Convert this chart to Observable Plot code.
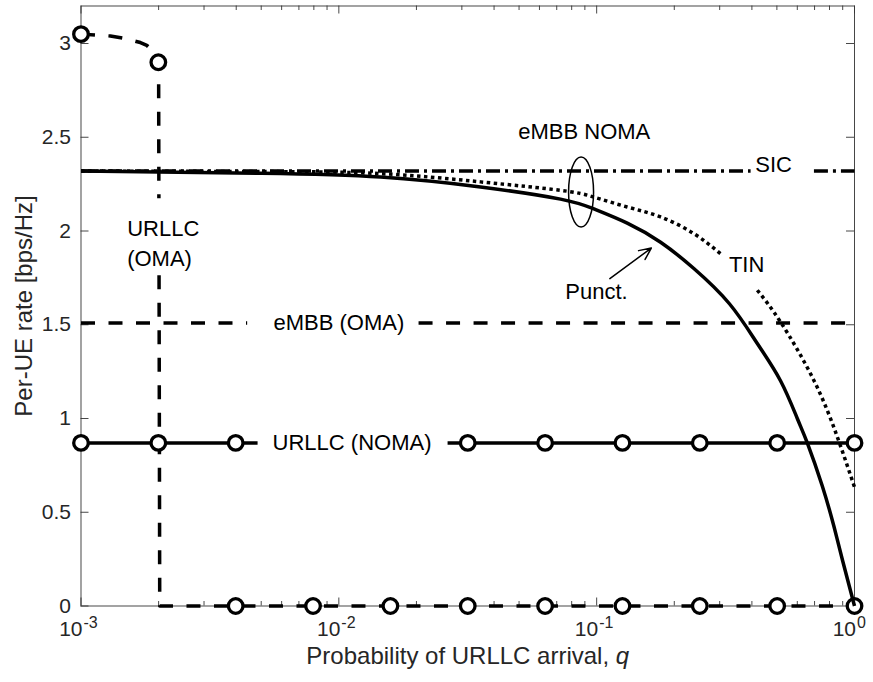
<!DOCTYPE html>
<html><head><meta charset="utf-8">
<script src="https://cdn.jsdelivr.net/npm/d3@7"></script>
<script src="https://cdn.jsdelivr.net/npm/@observablehq/plot@0.6"></script>
<style>body{margin:0;background:#fff} svg{display:block}</style>
</head><body><div id="chart"></div>
<script>
// ---- data ----
const qMarks = [0.001, 0.001995, 0.003981, 0.007943, 0.01585, 0.03162, 0.06310, 0.1259, 0.2512, 0.5012, 1];
const urllcNomaRate = [0.87, 0.87, 0.87, 0.87, 0.87, 0.87, 0.87, 0.87, 0.87, 0.87, 0.87];
const urllcOmaMarkRate = [3.05, 2.90, 0, 0, 0, 0, 0, 0, 0, 0, 0];

const urllcOmaQ    = [0.001, 0.0013, 0.0015, 0.0017, 0.0018, 0.0019, 0.002, 0.00202, 1];
const urllcOmaRate = [3.05, 3.04, 3.025, 3.005, 2.99, 2.96, 2.90, 0, 0];

const embbOmaQ = [0.001, 1];
const embbOmaRate = [1.51, 1.51];
const sicQ = [0.001, 1];
const sicRate = [2.32, 2.32];

const punctQ    = [0.001, 0.005, 0.01452, 0.03545, 0.0724, 0.0975, 0.1314, 0.177, 0.2382, 0.3273, 0.4198, 0.517, 0.6, 0.656, 0.75, 0.832, 0.9, 1];
const punctRate = [2.32, 2.308, 2.288, 2.235, 2.17, 2.118, 2.042, 1.940, 1.800, 1.612, 1.400, 1.200, 1.00, 0.870, 0.64, 0.425, 0.24, 0];

const tinQ    = [0.001, 0.005, 0.01452, 0.03545, 0.0724, 0.0975, 0.1314, 0.177, 0.2382, 0.3024, 0.4198, 0.517, 0.696, 0.858, 1];
const tinRate = [2.32, 2.317, 2.306, 2.262, 2.217, 2.181, 2.128, 2.075, 1.986, 1.879, 1.684, 1.514, 1.203, 0.901, 0.634];

// gaps where a line is hidden behind its label
const urllcNomaGapQ = [0.00484, 0.02641];
const embbOmaGapQ = [0.00441, 0.02038];
const sicGapQ = [0.3954, 0.6961];
const tinGapQ = [0.3024, 0.4198];
const urllcOmaGapRate = [1.764, 2.175];

// annotations
const labelTexts = ["eMBB NOMA", "SIC", "TIN", "Punct.", "eMBB (OMA)", "URLLC (NOMA)"];
const labelQ     = [0.0895, 0.4856, 0.3815, 0.0999, 0.01, 0.01125];
const labelRate  = [2.527, 2.351, 1.817, 1.673, 1.51, 0.87];
const omaLabel = "URLLC\n(OMA)", omaLabelQ = 0.00151, omaLabelRate = 1.943;
const ellipseQ = 0.087, ellipseRate = 2.208;
const arrowFrom = [0.1125, 1.746], arrowTo = [0.1629, 1.909];

const xMajor = [0.001, 0.01, 0.1, 1];
const xExp = ["-3", "-2", "-1", "0"];
const xMinor = [2,3,4,5,6,7,8,9].flatMap(m => [0.001, 0.01, 0.1].map(d => m * d));
const yTicks = [0, 0.5, 1, 1.5, 2, 2.5, 3];
const xLabel = "Probability of URLLC arrival, q";
const yLabel = "Per-UE rate [bps/Hz]";

// ---- helpers ----
const pts = (qs, rs) => qs.map((q, i) => ({q, r: rs[i]}));
function interp(p0, p1, t) {
  if (t === 0) return p0;
  if (t === 1) return p1;
  return {q: Math.exp(Math.log(p0.q) + t * (Math.log(p1.q) - Math.log(p0.q))), r: p0.r + t * (p1.r - p0.r)};
}
function cut(points, key, a, b) {
  const f = key === "q" ? Math.log : (v => v);
  const lo = f(Math.min(a, b)), hi = f(Math.max(a, b));
  const inGap = v => v > lo && v < hi;
  const parts = []; let cur = [];
  for (let i = 0; i < points.length; i++) {
    const p = points[i];
    if (i === 0) { if (!inGap(f(p[key]))) cur.push(p); continue; }
    const p0 = points[i - 1], v0 = f(p0[key]), v1 = f(p[key]);
    const ts = [];
    for (const e of [lo, hi]) if ((v0 - e) * (v1 - e) < 0) ts.push((e - v0) / (v1 - v0));
    ts.sort((x, y) => x - y);
    const bounds = [0, ...ts, 1];
    for (let j = 0; j < bounds.length - 1; j++) {
      const vm = v0 + (bounds[j] + bounds[j + 1]) / 2 * (v1 - v0);
      if (inGap(vm)) { if (cur.length > 1) parts.push(cur); cur = []; }
      else {
        if (!cur.length) cur.push(interp(p0, p, bounds[j]));
        cur.push(interp(p0, p, bounds[j + 1]));
      }
    }
  }
  if (cur.length > 1) parts.push(cur);
  return parts;
}
const tag = (parts, name) => parts.flatMap((part, i) => part.map(p => ({...p, z: name + i})));

const sicData = tag(cut(pts(sicQ, sicRate), "q", ...sicGapQ), "sic");
const embbData = tag(cut(pts(embbOmaQ, embbOmaRate), "q", ...embbOmaGapQ), "embb");
const omaData = tag(cut(pts(urllcOmaQ, urllcOmaRate), "r", ...urllcOmaGapRate), "oma");
const nomaData = tag(cut(pts(qMarks, urllcNomaRate), "q", ...urllcNomaGapQ), "noma");
const tinData = tag(cut(pts(tinQ, tinRate), "q", ...tinGapQ), "tin");
const punctData = pts(punctQ, punctRate);
const omaMarks = pts(qMarks, urllcOmaMarkRate);
const nomaMarks = pts(qMarks, urllcNomaRate).filter(p => p.q < urllcNomaGapQ[0] || p.q > urllcNomaGapQ[1]);

const ellipseSymbol = {
  draw(ctx, size) {
    const ry = Math.sqrt(size / Math.PI), rx = ry * 0.357, k = 0.5523;
    ctx.moveTo(rx, 0);
    ctx.bezierCurveTo(rx, k * ry, k * rx, ry, 0, ry);
    ctx.bezierCurveTo(-k * rx, ry, -rx, k * ry, -rx, 0);
    ctx.bezierCurveTo(-rx, -k * ry, -k * rx, -ry, 0, -ry);
    ctx.bezierCurveTo(k * rx, -ry, rx, -k * ry, rx, 0);
    ctx.closePath();
  }
};

// ---- layout ----
const W = 873, H = 682, mL = 80.5, mR = 19, mT = 5.5, mB = 76.5;
const plotW = W - mL - mR, plotH = H - mT - mB;
const axisColor = "#333";
const font = "'Liberation Sans', Arial, Helvetica, sans-serif";
const LW = 3.5;
const lineStyle = {stroke: "black", strokeWidth: LW, strokeLinecap: "butt", strokeLinejoin: "miter"};

const chart = Plot.plot({
  width: W, height: H,
  marginLeft: mL, marginRight: mR, marginTop: mT, marginBottom: mB,
  x: {type: "log", domain: [1e-3, 1], axis: null},
  y: {domain: [0, 3.2], axis: null},
  style: {fontFamily: font, background: "white"},
  marks: [
    // ticks (inside, all four sides)
    Plot.tickX(xMajor, {x: d => d, insetTop: plotH - 8, stroke: axisColor, strokeWidth: 0.9}),
    Plot.tickX(xMajor, {x: d => d, insetBottom: plotH - 8, stroke: axisColor, strokeWidth: 0.9}),
    Plot.tickX(xMinor, {x: d => d, insetTop: plotH - 4.5, stroke: axisColor, strokeWidth: 0.9}),
    Plot.tickX(xMinor, {x: d => d, insetBottom: plotH - 4.5, stroke: axisColor, strokeWidth: 0.9}),
    Plot.tickY(yTicks, {y: d => d, insetRight: plotW - 8, stroke: axisColor, strokeWidth: 0.9}),
    Plot.tickY(yTicks, {y: d => d, insetLeft: plotW - 8, stroke: axisColor, strokeWidth: 0.9}),
    Plot.frame({stroke: axisColor, strokeWidth: 0.9}),

    // series
    Plot.line(sicData, {x: "q", y: "r", z: "z", ...lineStyle, strokeDasharray: "14,5,3,5"}),
    Plot.line(embbData, {x: "q", y: "r", z: "z", ...lineStyle, strokeDasharray: "14,13.5"}),
    Plot.line(omaData, {x: "q", y: "r", z: "z", ...lineStyle, strokeLinejoin: "round", strokeDasharray: "14,13.5"}),
    Plot.dot(omaMarks, {x: "q", y: "r", r: 7.3, stroke: "black", strokeWidth: 3.3, fill: "white"}),
    Plot.line(nomaData, {x: "q", y: "r", z: "z", ...lineStyle}),
    Plot.dot(nomaMarks, {x: "q", y: "r", r: 7.3, stroke: "black", strokeWidth: 3.3, fill: "white"}),
    Plot.line(tinData, {x: "q", y: "r", z: "z", ...lineStyle, strokeDasharray: "3.5,3.5", curve: "natural"}),
    Plot.line(punctData, {x: "q", y: "r", ...lineStyle, strokeLinejoin: "round", curve: "natural"}),

    // annotations
    Plot.text(labelTexts, {x: (d, i) => labelQ[i], y: (d, i) => labelRate[i], text: d => d, fontSize: 22, fill: "black"}),
    Plot.text([omaLabel], {x: omaLabelQ, y: omaLabelRate, text: d => d, textAnchor: "start", fontSize: 22, lineHeight: 1.33, fill: "black"}),
    Plot.dot([0], {x: ellipseQ, y: ellipseRate, r: 35, symbol: ellipseSymbol, stroke: "black", strokeWidth: 1.5, fill: "none"}),
    Plot.arrow([0], {x1: arrowFrom[0], y1: arrowFrom[1], x2: arrowTo[0], y2: arrowTo[1], stroke: "black", strokeWidth: 1.5, headLength: 13, headAngle: 50}),

    // tick labels
    Plot.text(yTicks, {y: d => d, frameAnchor: "left", text: d => String(d), textAnchor: "end", dx: -10, fontSize: 21, fill: "#262626"}),
    Plot.text(xMajor, {x: d => d, frameAnchor: "bottom", text: () => "10", textAnchor: "end", dx: 1.5, dy: 29.8, fontSize: 21, fill: "#262626"}),
    Plot.text(xMajor, {x: d => d, frameAnchor: "bottom", text: (d, i) => xExp[i], textAnchor: "start", dx: 2.5, dy: 22, fontSize: 16, fill: "#262626"}),

    // axis labels
    Plot.text([xLabel], {frameAnchor: "bottom", text: d => d, textAnchor: "middle", dy: 57.5, fontSize: 24, fill: "#262626"}),
    Plot.text([yLabel], {frameAnchor: "left", text: d => d, textAnchor: "middle", rotate: -90, dx: -57, fontSize: 24, fill: "#262626"})
  ]
});

// italic q in the x label
for (const t of chart.querySelectorAll("text")) {
  if (t.textContent === xLabel) {
    const target = t.querySelector("tspan") || t;
    target.textContent = "Probability of URLLC arrival, ";
    const ts = document.createElementNS("http://www.w3.org/2000/svg", "tspan");
    ts.setAttribute("font-style", "italic");
    ts.textContent = "q";
    target.appendChild(ts);
  }
}
document.getElementById("chart").appendChild(chart);
</script>
</body></html>
